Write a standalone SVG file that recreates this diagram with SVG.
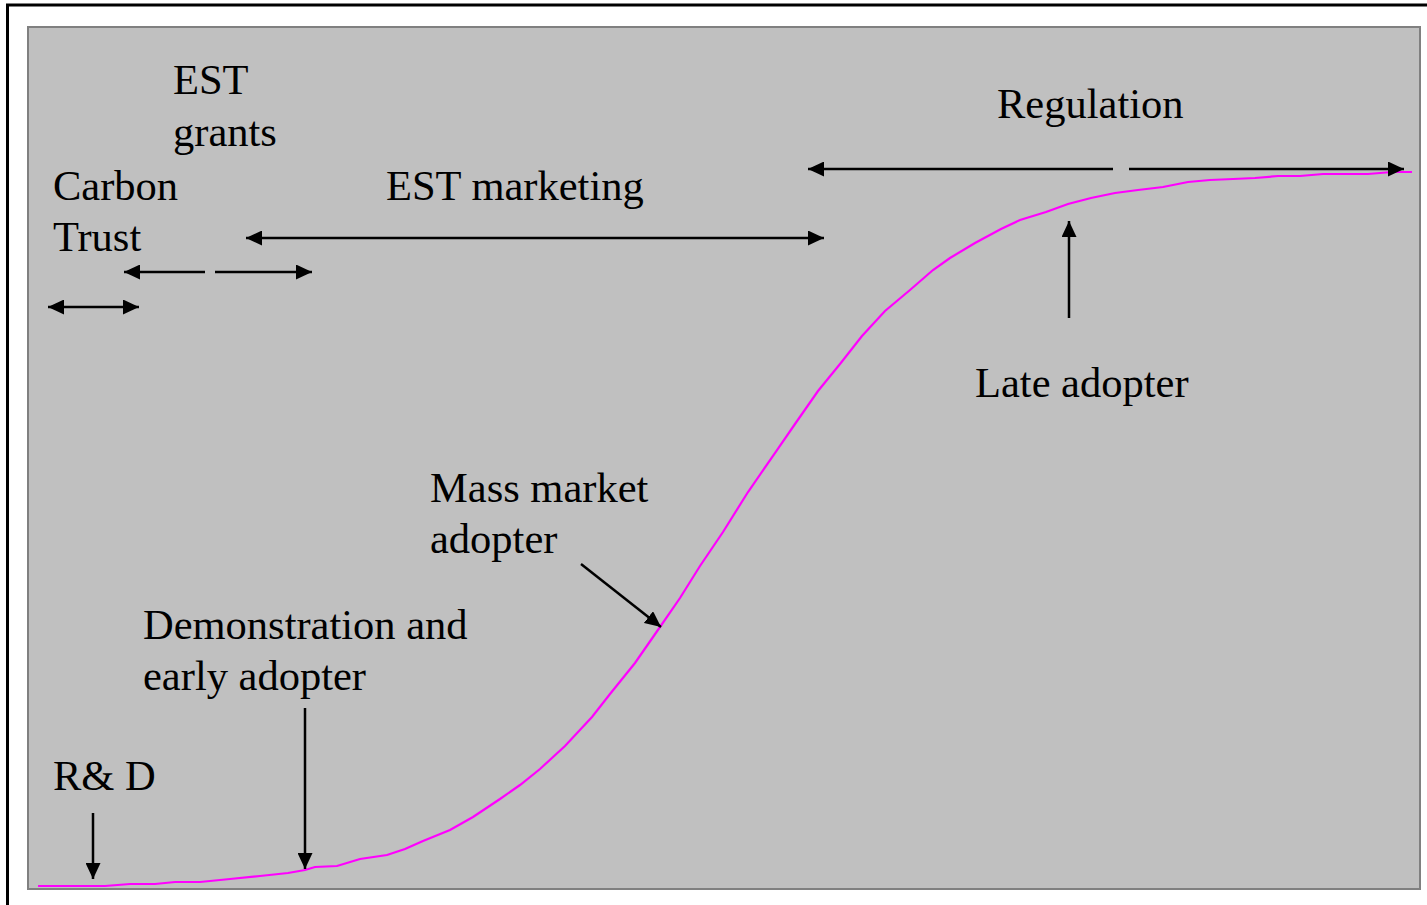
<svg xmlns="http://www.w3.org/2000/svg" width="1427" height="905" viewBox="0 0 1427 905">
<style>
text{font-family:"Liberation Serif","Times New Roman",serif;font-size:42.5px;fill:#000}
.ar{stroke:#000;stroke-width:2.5;fill:none}
</style>
<defs>
<marker id="ah" viewBox="0 0 16 15" refX="16" refY="7.5" markerWidth="16" markerHeight="15" markerUnits="userSpaceOnUse" orient="auto-start-reverse">
<path d="M0,0 L16,7.5 L0,15 Z" fill="#000"/>
</marker>
</defs>
<rect x="0" y="0" width="1427" height="905" fill="#fff"/>
<rect x="7.5" y="5" width="1430" height="920" fill="#fff" stroke="#000" stroke-width="3"/>
<rect x="28" y="27" width="1392" height="862" fill="#c0c0c0" stroke="#808080" stroke-width="2"/>
<g id="curve">
<polyline fill="none" stroke="#ff00ff" stroke-width="2.2" points="38,886 105,886 130,884 155,884 175,882 200,882 230,879 260,876 288,873 305,870 315,867 337,866 360,859 387,855 405,849 423,841 450,830 473,817 500,799 520,785 540,769 565,746 592,717 610,694 635,663 660,627 680,598 700,566 723,532 748,492 777,450 795,424 818,391 840,364 862,336 885,311 910,290 933,270 950,258 975,243 1001,229 1020,220 1046,212 1068,204 1091,198 1115,193 1138,190 1163,187 1188,182 1210,180 1233,179 1255,178 1278,176 1300,176 1323,174 1345,174 1368,174 1392,172 1412,172"/>
</g>
<g id="connectors">
<line class="ar" x1="48" y1="307" x2="139" y2="307" marker-start="url(#ah)" marker-end="url(#ah)"/>
<line class="ar" x1="205" y1="272" x2="124" y2="272" marker-end="url(#ah)"/>
<line class="ar" x1="215" y1="272" x2="312" y2="272" marker-end="url(#ah)"/>
<line class="ar" x1="246" y1="238" x2="824" y2="238" marker-start="url(#ah)" marker-end="url(#ah)"/>
<line class="ar" x1="1113" y1="169" x2="808" y2="169" marker-end="url(#ah)"/>
<line class="ar" x1="1129" y1="169" x2="1404" y2="169" marker-end="url(#ah)"/>
<line class="ar" x1="1069" y1="318" x2="1069" y2="221" marker-end="url(#ah)"/>
<line class="ar" x1="581" y1="564" x2="661" y2="627" marker-end="url(#ah)"/>
<line class="ar" x1="305" y1="708" x2="305" y2="869" marker-end="url(#ah)"/>
<line class="ar" x1="93" y1="813" x2="93" y2="879" marker-end="url(#ah)"/>
</g>
<g id="est-grants"><text x="173" y="94">EST</text><text x="173" y="146">grants</text></g>
<g id="carbon-trust"><text x="53" y="200">Carbon</text><text x="53" y="251">Trust</text></g>
<g id="est-marketing"><text x="386" y="200">EST marketing</text></g>
<g id="regulation"><text x="997" y="118">Regulation</text></g>
<g id="late-adopter"><text x="975" y="397">Late adopter</text></g>
<g id="mass-market"><text x="430" y="502">Mass market</text><text x="430" y="553">adopter</text></g>
<g id="demonstration"><text x="143" y="639">Demonstration and</text><text x="143" y="690">early adopter</text></g>
<g id="rd"><text x="53" y="790">R&amp; D</text></g>
</svg>
